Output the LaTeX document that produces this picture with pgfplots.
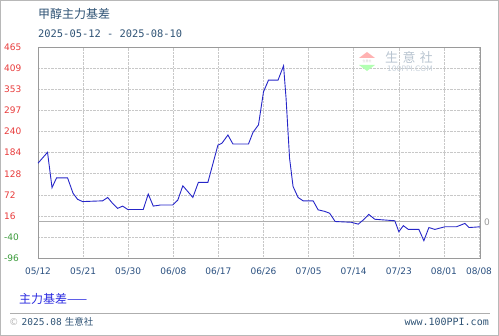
\documentclass[border=0pt]{standalone}
\usepackage{fontspec}
\usepackage{pgfplots}
\pgfplotsset{compat=1.18}
\setmainfont{DejaVu Sans}
\newfontfamily\cjk{Noto Sans CJK SC}
\newfontfamily\mono{DejaVu Sans Mono}
\definecolor{titleblue}{HTML}{2F5375}
\definecolor{tickred}{HTML}{E83A3A}
\definecolor{tickgreen}{HTML}{3A9A3A}
\definecolor{xtickblue}{HTML}{2A5080}
\definecolor{lineblue}{HTML}{2626C8}
\definecolor{legblue}{HTML}{2A2AE0}
\definecolor{gridgray}{HTML}{C8C8C8}
\definecolor{boxgray}{HTML}{9A9A9A}
\definecolor{wmtext}{HTML}{B8C4D0}
\begin{document}
\begin{tikzpicture}[x=1pt,y=1pt]
\path[use as bounding box] (0,0) rectangle (499,-336);
\draw[color=boxgray!70, line width=0.8pt] (0.5,-0.5) rectangle (498.5,-335.5);
% titles
\node[anchor=west, inner sep=0pt, text=titleblue, font=\cjk\fontsize{12}{12}\selectfont] at (38,-14) {甲醇主力基差};
\node[anchor=west, inner sep=0pt, text=titleblue, font=\mono\fontsize{10.4}{10}\selectfont] at (38,-34) {2025-05-12 - 2025-08-10};
\begin{axis}[
  at={(38pt,-258pt)}, anchor=south west,
  width=442pt, height=211pt, scale only axis,
  xmin=0, xmax=88.2, ymin=-96, ymax=465,
  axis line style={color=boxgray, line width=0.8pt},
  major tick length=0pt,
  grid=major,
  major grid style={color=gridgray, densely dotted, line width=0.6pt},
  xtick={0,9,18,27,36,45,54,63,72,81,88},
  xticklabels={05/12,05/21,05/30,06/08,06/17,06/26,07/05,07/14,07/23,08/01,08/08},
  xticklabel style={text=xtickblue, font=\fontsize{9}{9}\selectfont, yshift=-6pt},
  ytick={-96,-40,16,72,128,184,240,297,353,409,465},
  yticklabels={\textcolor{tickgreen}{-96},\textcolor{tickgreen}{-40},\textcolor{tickred}{16},\textcolor{tickred}{72},\textcolor{tickred}{128},\textcolor{tickred}{184},\textcolor{tickred}{240},\textcolor{tickred}{297},\textcolor{tickred}{353},\textcolor{tickred}{409},\textcolor{tickred}{465}},
  yticklabel style={anchor=west, inner sep=0pt, xshift=-34pt, font=\fontsize{9}{9}\selectfont},
  clip=false,
]
\addplot[color=boxgray!80, line width=0.9pt, forget plot] coordinates {(0,0) (88.2,0)};
\node[anchor=west, text=boxgray, font=\fontsize{9}{9}\selectfont, inner sep=0pt] at (axis cs:88.2,0) {\hspace{4pt}0};
\addplot[color=lineblue, line width=0.9pt, mark=none] coordinates {
(0,156) (1.9,185) (2.8,91) (3.7,117) (5.9,117) (7,76) (7.9,60) (8.9,54) (12.9,56) (13.9,65) (14.9,49) (15.9,36) (16.9,42) (17.9,33) (21,33) (22,74) (23,42) (24.5,45) (26.9,45) (27.9,58) (28.9,96) (30.9,65) (32,105) (33.9,105) (35.9,204) (36.7,209) (37.9,231) (38.9,207) (42,207) (42.9,238) (44,258) (45,346) (46,377) (47.9,377) (49,415) (49.5,329) (50.2,169) (50.9,94) (51.9,65) (52.9,56) (54.9,56) (55.9,32) (57.2,28) (58.2,23) (59.3,1) (62.5,-1) (63.9,-6) (65,6) (66,20) (67.2,7) (71.2,3) (72,-26) (72.9,-10) (73.9,-20) (76,-20) (77,-50) (78,-15) (79.2,-20) (81.2,-13) (83.5,-13) (85.2,-4) (86,-15) (87.2,-14) (88.2,-13)
};
\end{axis}
% watermark
\fill[red!30!white] (367,-52) -- (375,-58) -- (359,-58) -- cycle;
\fill[green!30!white] (359,-65) -- (375,-65) -- (367,-71) -- cycle;
\node[inner sep=0pt, text=gray!40!white, font=\cjk\fontsize{3}{3}\selectfont] at (367,-61.5) {生意社};
\node[anchor=west, inner sep=0pt, text=wmtext, font=\cjk\fontsize{13}{13}\selectfont] at (385,-57) {生\,\,意\,\,社};
\node[anchor=west, inner sep=0pt, text=wmtext!80!white, font=\fontsize{7.5}{7.5}\selectfont] at (387,-69) {100PPI.COM};
% legend
\node[anchor=west, inner sep=0pt, text=legblue, font=\cjk\fontsize{12}{12}\selectfont] at (19,-299) {主力基差——};
% footer
\draw[color=boxgray!80, line width=0.7pt] (10,-313) -- (490,-313);
\node[anchor=west, inner sep=0pt, text=titleblue, font=\fontsize{9.5}{10}\selectfont] at (9,-322) {{\color{gray!60}\textcopyright} {\mono 2025.08} {\cjk 生意社}};
\node[anchor=east, inner sep=0pt, text=titleblue, font=\mono\fontsize{10}{10}\selectfont] at (489,-322) {www.100PPI.com};
\end{tikzpicture}
\end{document}
